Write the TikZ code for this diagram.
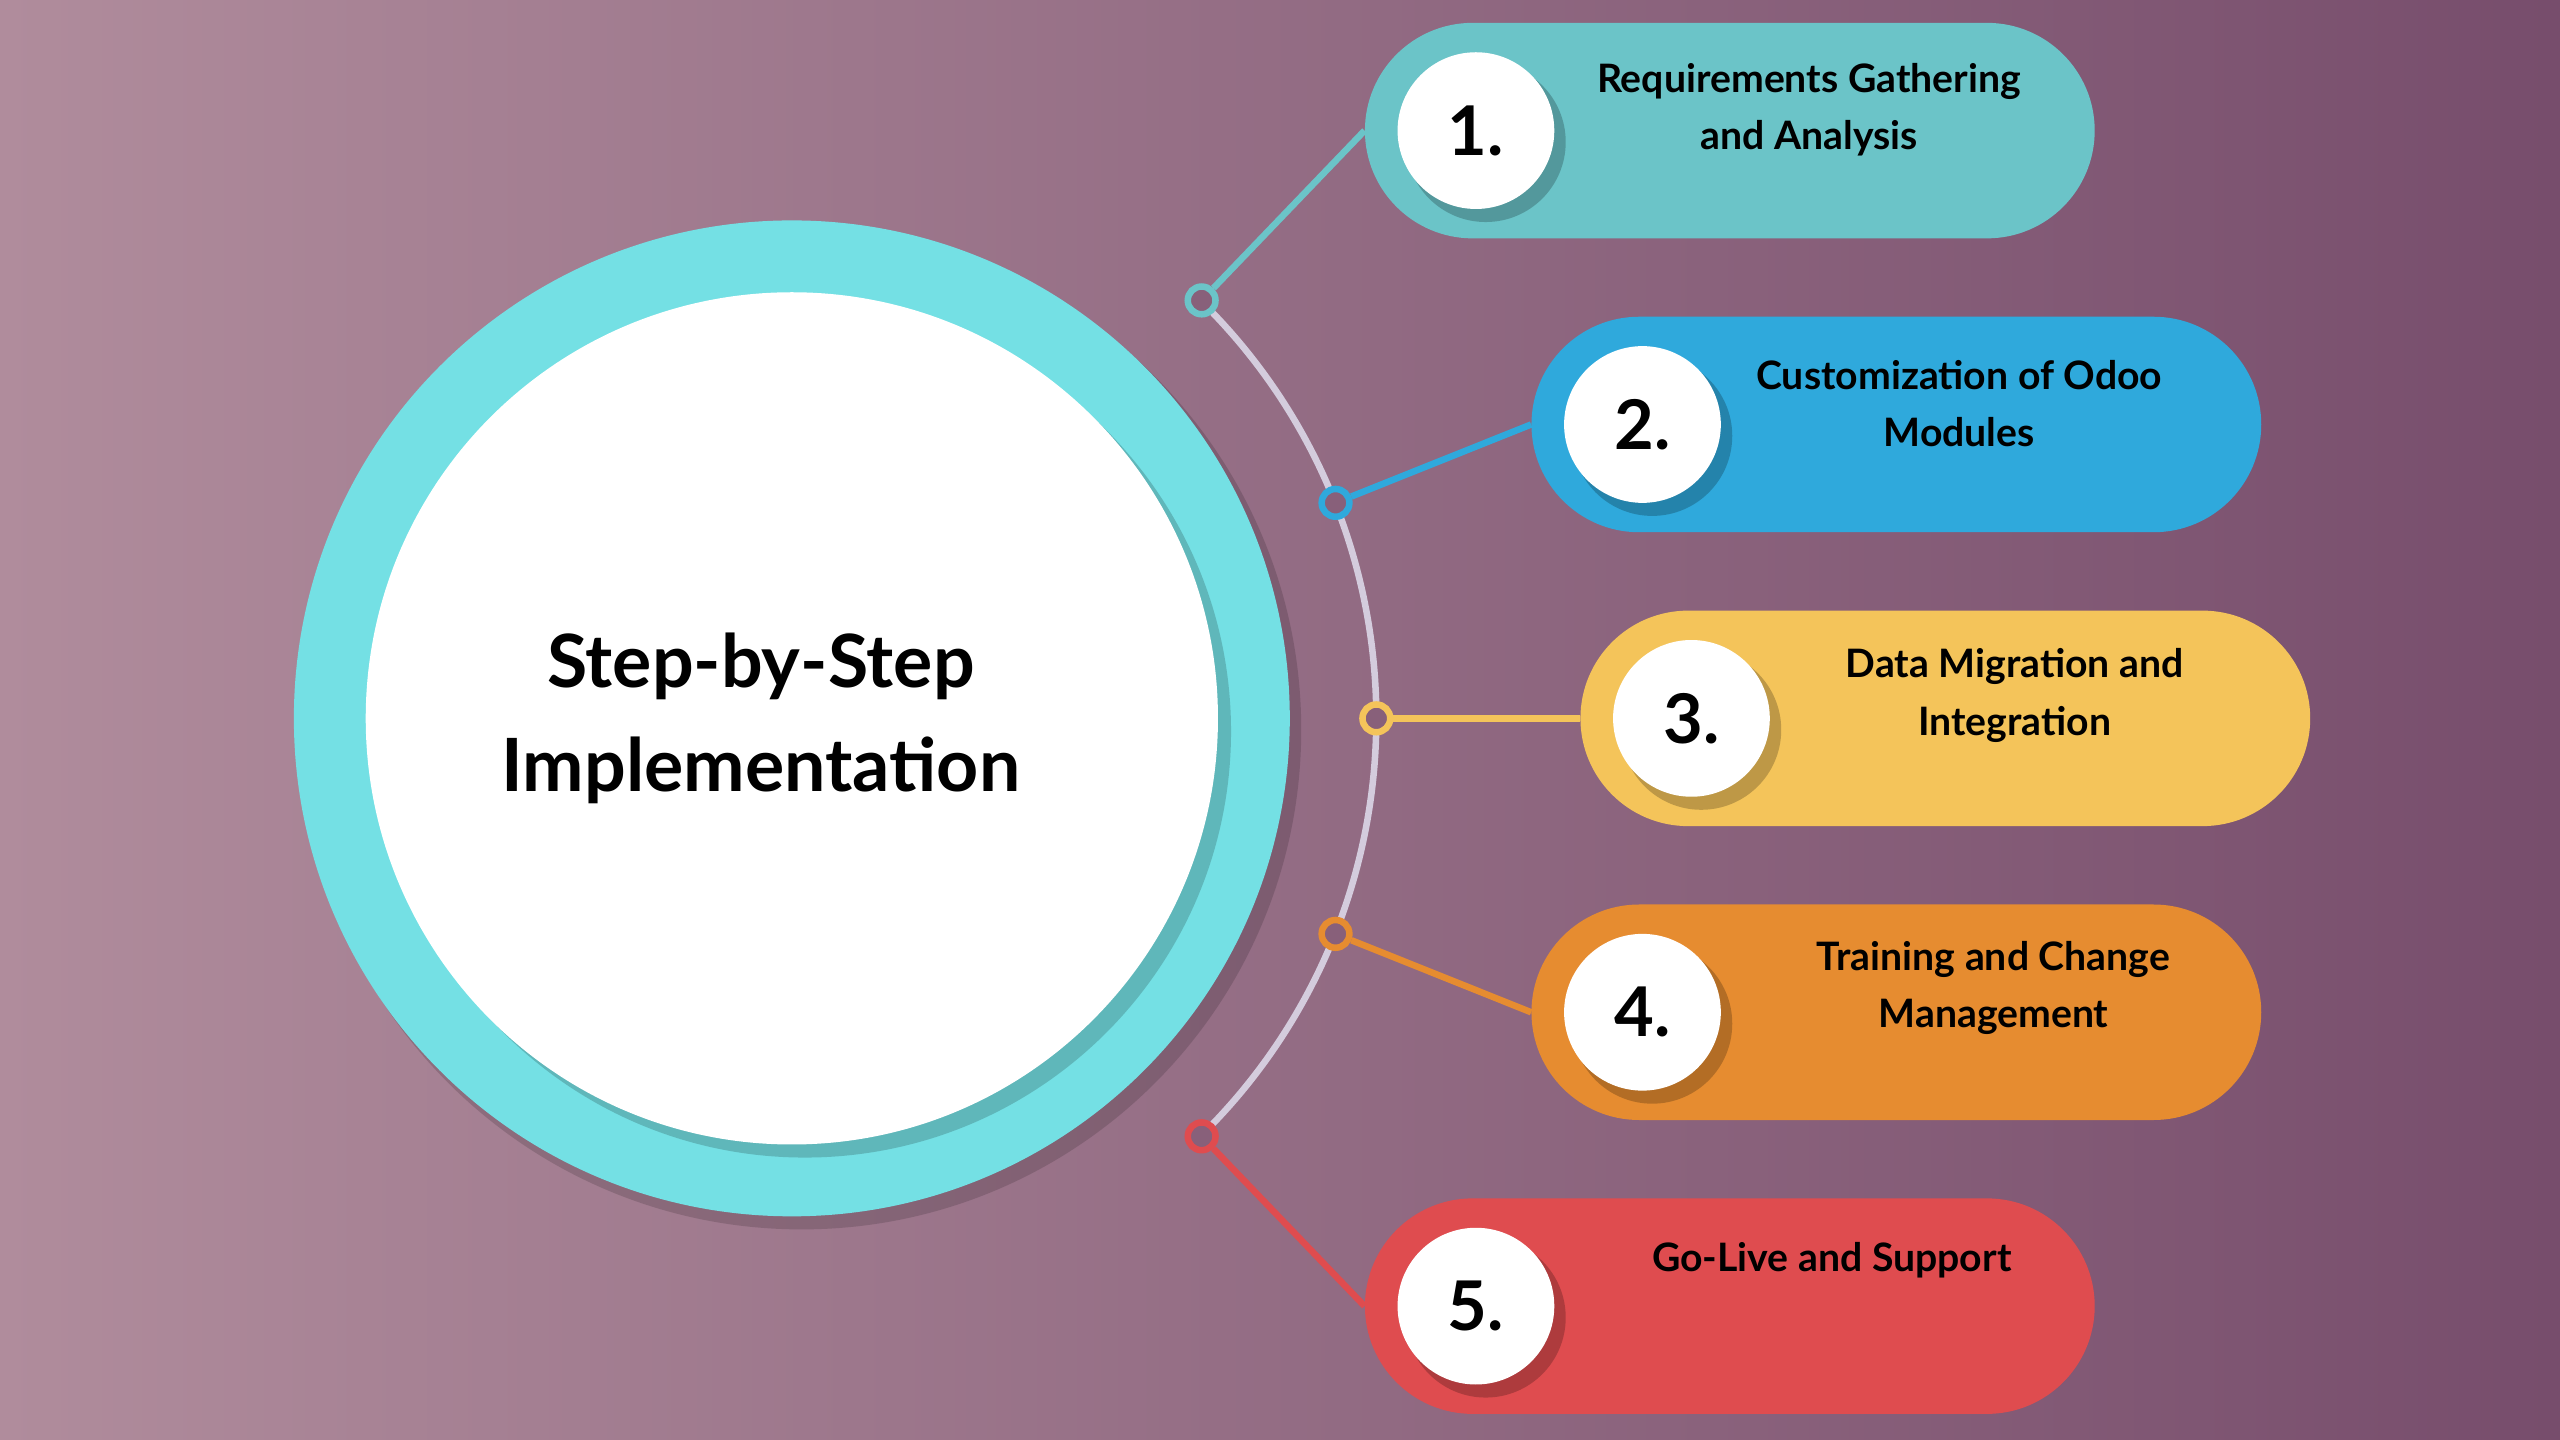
\documentclass[tikz,border=0pt]{standalone}
\usepackage{fontspec}
\setmainfont{Lato}
\usetikzlibrary{calc}
\definecolor{bgL}{HTML}{B08C9C}
\definecolor{bgR}{HTML}{774D6C}
\definecolor{ring}{HTML}{74E0E4}
\definecolor{arcc}{HTML}{D4CCDD}
\definecolor{cA}{HTML}{6BC4C8}
\definecolor{cB}{HTML}{2FA9DC}
\definecolor{cC}{HTML}{F4C45A}
\definecolor{cD}{HTML}{E68C30}
\definecolor{cE}{HTML}{DF4C4F}
\tikzset{
 pill/.style={fill=#1, rounded corners=66pt, minimum width=447pt, minimum height=132pt, inner sep=0pt},
 num/.style={circle, fill=white, minimum size=96pt, inner sep=0pt, font=\bfseries\fontsize{42}{42}\selectfont},
 lbl/.style={align=center, font=\bfseries\fontsize{24}{35}\selectfont, text=black},
 dot/.style={circle, draw=#1, line width=4pt, fill=bgR!70!bgL, minimum size=17pt, inner sep=0pt},
 conn/.style={draw=#1, line width=4pt}
}
\begin{document}
\begin{tikzpicture}[x=1pt,y=-1pt]
\useasboundingbox (0,0) rectangle (1568,882);
\shade[left color=bgL, right color=bgR] (0,0) rectangle (1568,882);
% big circle
\fill[black, opacity=0.15] (491,447) circle (306);
\node[circle, fill=ring, minimum size=610pt, inner sep=0pt] (outer) at (485,440) {};
\fill[black, opacity=0.18] (493,448) circle (261);
\node[circle, fill=white, minimum size=522pt, inner sep=0pt, align=center, font=\bfseries\fontsize{45}{64}\selectfont] (inner) at (485,440) {\hspace*{-38pt}Step-by-Step\\\hspace*{-38pt}Implementation};
% arc
\draw[arcc, line width=4pt] (485,440) ++(45.7:358) arc[start angle=45.7, end angle=-45.7, radius=358];
% pills
\node[pill=cA] (p1) at (1059.5,80) {};
\node[pill=cB] (p2) at (1161.5,260) {};
\node[pill=cC] (p3) at (1191.5,440) {};
\node[pill=cD] (p4) at (1161.5,620) {};
\node[pill=cE] (p5) at (1059.5,800) {};
% dots
\node[dot=cA] (d1) at (736,184) {};
\node[dot=cB] (d2) at (818,308) {};
\node[dot=cC] (d3) at (843,440) {};
\node[dot=cD] (d4) at (818,572) {};
\node[dot=cE] (d5) at (736,696) {};
\draw[conn=cA] (d1) -- (p1.west);
\draw[conn=cB] (d2) -- (p2.west);
\draw[conn=cC] (d3) -- (p3.west);
\draw[conn=cD] (d4) -- (p4.west);
\draw[conn=cE] (d5) -- (p5.west);
% number circles
\foreach \x/\y in {904/80,1006/260,1036/440,1006/620,904/800}{\fill[black,opacity=0.22] (\x+6,\y+7) circle (49);}
\node[num] (n1) at (904,80) {1.};
\node[num] (n2) at (1006,260) {2.};
\node[num] (n3) at (1036,440) {3.};
\node[num] (n4) at (1006,620) {4.};
\node[num] (n5) at (904,800) {5.};
% labels
\node[lbl] (t1) at (1108,67) {Requirements Gathering\\and Analysis};
\node[lbl] (t2) at (1200,247) {Customization of Odoo\\Modules};
\node[lbl] (t3) at (1234,426) {Data Migration and\\Integration};
\node[lbl] (t4) at (1221,605) {Training and Change\\Management};
\node[lbl] (t5) at (1122,772) {Go-Live and Support};
\end{tikzpicture}
\end{document}
